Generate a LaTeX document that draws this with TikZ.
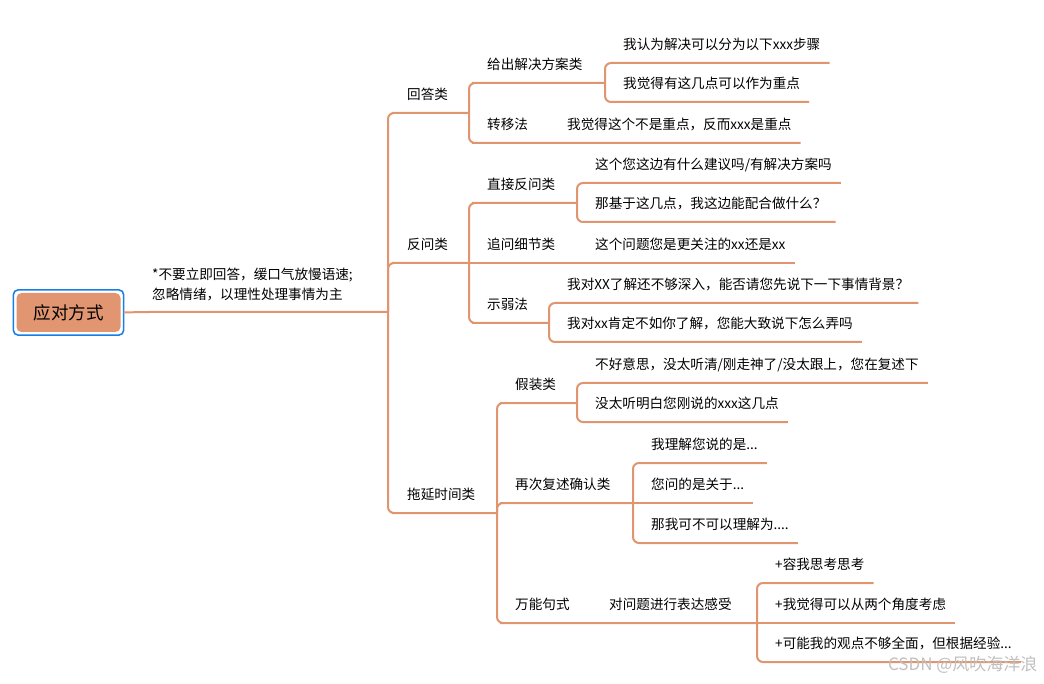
\documentclass[tikz,border=0pt]{standalone}
\usepackage{fontspec}
\setmainfont{Noto Sans CJK SC}
\usepackage{xcolor}
\usepackage{tikz}
\definecolor{branch}{RGB}{225,149,111}
\definecolor{rootfill}{RGB}{225,150,113}
\definecolor{rootblue}{RGB}{22,126,230}
\definecolor{mark}{RGB}{192,192,192}

\begin{document}
\begin{tikzpicture}[x=1pt, y=-1pt,
    rootbox/.style={rectangle, fill=rootfill, rounded corners=5pt, minimum width=104pt, minimum height=39pt, inner sep=0pt, font=\fontsize{17.5}{20}\selectfont},
    rootring/.style={draw=rootblue, line width=1.5pt, rounded corners=5pt},
    leaf/.style={anchor=south west, inner xsep=9pt, inner ysep=10pt, text height=10pt, text depth=3pt, font=\fontsize{13.6}{16}\selectfont},
    note/.style={anchor=south west, align=left, inner xsep=9pt, inner ysep=9pt, text depth=3pt, font=\fontsize{13.6}{20}\selectfont},
    link/.style={draw=branch, line width=2pt, rounded corners=6pt}
]
\useasboundingbox (0,0) rectangle (1044,684);

\node[rootbox] (root) at (68.5,312.5) {应对方式};
\draw[rootring] ([shift={(-3pt,-3pt)}]root.south west) rectangle ([shift={(3pt,3pt)}]root.north east);
\node[note] (hint) at (143,312) {*不要立即回答，缓口气放慢语速;\\忽略情绪，以理性处理事情为主};

\coordinate (j0) at (388,312);
\coordinate (j1) at (469,113);
\coordinate (j2) at (469,263);
\coordinate (j3) at (497,513);
\coordinate (j11) at (605,83);
\coordinate (j21) at (577,203);
\coordinate (j23) at (549,323);
\coordinate (j31) at (577,403);
\coordinate (j32) at (633,503);
\coordinate (j33) at (757,623);

\node[leaf] (huida) at (398,113) {回答类};
\node[leaf] (fanwen) at (398,263) {反问类};
\node[leaf] (tuoyan) at (398,513) {拖延时间类};

\node[leaf] (geichu) at (478,83) {给出解决方案类};
\node[leaf] (zhuanyi) at (478,143) {转移法};
\node[leaf] (zhijie) at (478,203) {直接反问类};
\node[leaf] (zhuiwen) at (478,263) {追问细节类};
\node[leaf] (shiruo) at (478,323) {示弱法};
\node[leaf] (jiazhuang) at (506,403) {假装类};
\node[leaf] (zaici) at (506,503) {再次复述确认类};
\node[leaf] (wanneng) at (506,623) {万能句式};

\node[leaf] (a1) at (614,63) {我认为解决可以分为以下xxx步骤};
\node[leaf] (a2) at (614,102) {我觉得有这几点可以作为重点};
\node[leaf] (b1) at (558,143) {我觉得这个不是重点，反而xxx是重点};
\node[leaf] (c1) at (586,183) {这个您这边有什么建议吗/有解决方案吗};
\node[leaf] (c2) at (586,222) {那基于这几点，我这边能配合做什么？};
\node[leaf] (d1) at (586,263) {这个问题您是更关注的xx还是xx};
\node[leaf] (e1) at (558,303) {我对XX了解还不够深入，能否请您先说下一下事情背景？};
\node[leaf] (e2) at (558,342) {我对xx肯定不如你了解，您能大致说下怎么弄吗};
\node[leaf] (f1) at (586,383) {不好意思，没太听清/刚走神了/没太跟上，您在复述下};
\node[leaf] (f2) at (586,422) {没太听明白您刚说的xxx这几点};
\node[leaf] (g1) at (642,463) {我理解您说的是...};
\node[leaf] (g2) at (642,503) {您问的是关于...};
\node[leaf] (g3) at (642,543) {那我可不可以理解为....};
\node[leaf] (h0) at (600,623) {对问题进行表达感受};
\node[leaf] (h1) at (766,583) {+容我思考思考};
\node[leaf] (h2) at (766,623) {+我觉得可以从两个角度考虑};
\node[leaf] (h3) at (766,662) {+可能我的观点不够全面，但根据经验...};

\draw[link] (root.east) ++(3pt,0) -- (hint.south west) -- (j0);
\draw[link] (j0) |- (huida.south west) -- (j1);
\draw[link] (j0) |- (fanwen.south west) -- (j2);
\draw[link] (j0) |- (tuoyan.south west) -- (j3);

\draw[link] (j1) |- (geichu.south west) -- (j11);
\draw[link] (j1) |- (zhuanyi.south west) -- (b1.south east);
\draw[link] (j11) |- (a1.south east);
\draw[link] (j11) |- (a2.south east);

\draw[link] (j2) |- (zhijie.south west) -- (j21);
\draw[link] (j2) -- (zhuiwen.south west) -- (d1.south east);
\draw[link] (j2) |- (shiruo.south west) -- (j23);
\draw[link] (j21) |- (c1.south east);
\draw[link] (j21) |- (c2.south east);
\draw[link] (j23) |- (e1.south east);
\draw[link] (j23) |- (e2.south east);

\draw[link] (j3) |- (jiazhuang.south west) -- (j31);
\draw[link] (j3) |- (zaici.south west) -- (j32);
\draw[link] (j3) |- (wanneng.south west) -- (j33);
\draw[link] (j31) |- (f1.south east);
\draw[link] (j31) |- (f2.south east);
\draw[link] (j32) |- (g1.south east);
\draw[link] (j32) -- (g2.south east);
\draw[link] (j32) |- (g3.south east);
\draw[link] (j33) |- (h1.south east);
\draw[link] (j33) -- (h2.south east);
\draw[link] (j33) |- (h3.south east);

\node[text=mark, font=\fontsize{17}{20}\selectfont, anchor=east] (wm) at (1041,665) {CSDN @风吹海洋浪};

\end{tikzpicture}
\end{document}
